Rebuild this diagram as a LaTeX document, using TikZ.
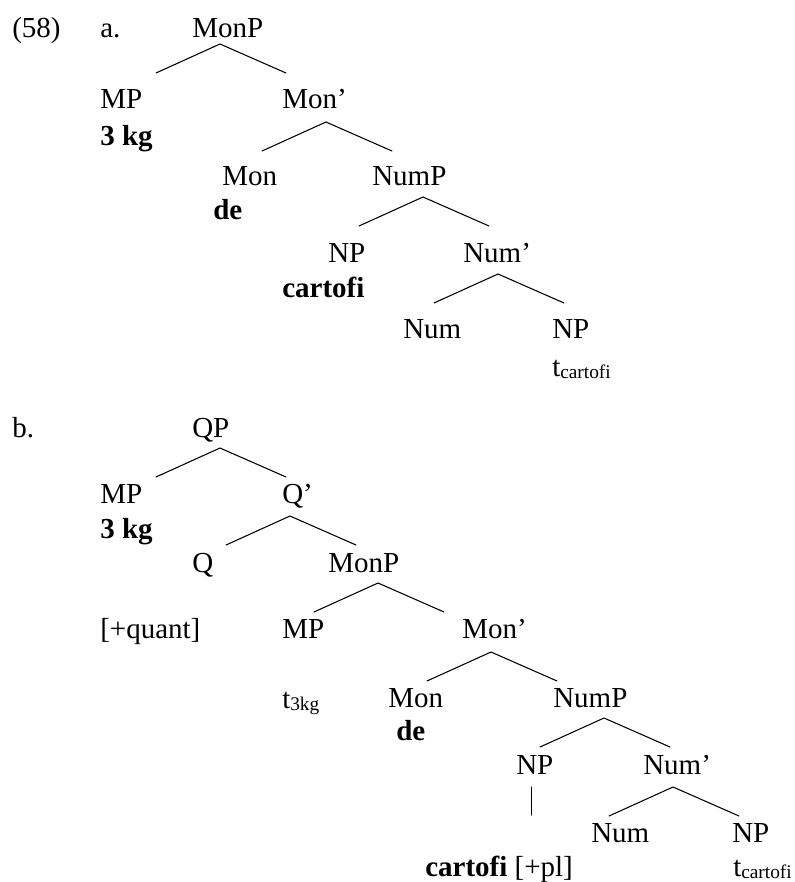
\documentclass[tikz,border=0pt]{standalone}
\usepackage{fontspec}
\setmainfont{Liberation Serif}
\usepackage{tikz}
\usetikzlibrary{calc}

% one branching: apex plus the two legs
\newcommand{\fork}[2]{%
  \coordinate (#1-t) at (#2);
  \coordinate (#1-l) at ($(#1-t)+(-64,29)$);
  \coordinate (#1-r) at ($(#1-t)+(66,29)$);
  \draw[branch] (#1-l) -- (#1-t) -- (#1-r);}
% trace with small lowered index
\newcommand{\trace}[1]{t\raisebox{-0.07em}{\fontsize{14.5}{16}\selectfont #1}}

\begin{document}
\begin{tikzpicture}[x=0.75pt,y=-0.75pt,
    every node/.style={font=\fontsize{21.75}{26}\selectfont},
    lbl/.style={anchor=base west, inner sep=0pt},
    lex/.style={lbl, font=\fontsize{21.75}{26}\selectfont\bfseries},
    branch/.style={line width=0.8pt, line cap=round}]
\useasboundingbox (0,0) rectangle (794,882);

% (58) a.
\node[lbl] (ex)    at (12,37)  {(58)};
\node[lbl] (laba)  at (100,37) {a.};
\node[lbl] (monpa) at (192,37) {MonP};
\node[lbl] (mpa)   at (100,108) {MP};
\node[lex] (kga)   at (100,145) {3 kg};
\node[lbl] (monba) at (282,108) {Mon’};
\node[lbl] (mona)  at (222,185) {Mon};
\node[lex] (dea)   at (213,219) {de};
\node[lbl] (numpa) at (372,185) {NumP};
\node[lbl] (npa)   at (328,262) {NP};
\node[lex] (carta) at (282,297) {cartofi};
\node[lbl] (numba) at (463,262) {Num’};
\node[lbl] (numa)  at (403,338) {Num};
\node[lbl] (npta)  at (552,338) {NP};
\node[lbl] (tra)   at (552,376) {\trace{cartofi}};

\fork{monpa}{220,44}
\fork{monba}{326,122}
\fork{numpa}{423,197}
\fork{numba}{498,274}

% b.
\node[lbl] (labb)  at (12,437)  {b.};
\node[lbl] (qpb)   at (192,437) {QP};
\node[lbl] (mpb)   at (100,503) {MP};
\node[lex] (kgb)   at (100,538) {3 kg};
\node[lbl] (qbb)   at (282,503) {Q’};
\node[lbl] (qb)    at (192,572) {Q};
\node[lbl] (monpb) at (328,572) {MonP};
\node[lbl] (quant) at (100,638) {[+quant]};
\node[lbl] (mptb)  at (282,638) {MP};
\node[lbl] (trkg)  at (282,708) {\trace{3kg}};
\node[lbl] (monbb) at (462,638) {Mon’};
\node[lbl] (monb)  at (388,707) {Mon};
\node[lex] (deb)   at (396,740) {de};
\node[lbl] (numpb) at (553,707) {NumP};
\node[lbl] (npb)   at (516,774) {NP};
\node[lbl] (cartb) at (425,876) {\textbf{cartofi} [+pl]};
\node[lbl] (numbb) at (643,774) {Num’};
\node[lbl] (numb)  at (591,842) {Num};
\node[lbl] (nptb)  at (732,842) {NP};
\node[lbl] (trb)   at (733,876) {\trace{cartofi}};

\fork{qpb}{220,448}
\fork{qbb}{290,516}
\fork{monpb}{378,583}
\fork{monbb}{491,652}
\fork{numpb}{604,718}
\fork{numbb}{673,787}

% NP - cartofi
\coordinate (bar-t) at (531.5,787);
\coordinate (bar-b) at (531.5,815);
\draw[branch] (bar-t) -- (bar-b);

\end{tikzpicture}
\end{document}
